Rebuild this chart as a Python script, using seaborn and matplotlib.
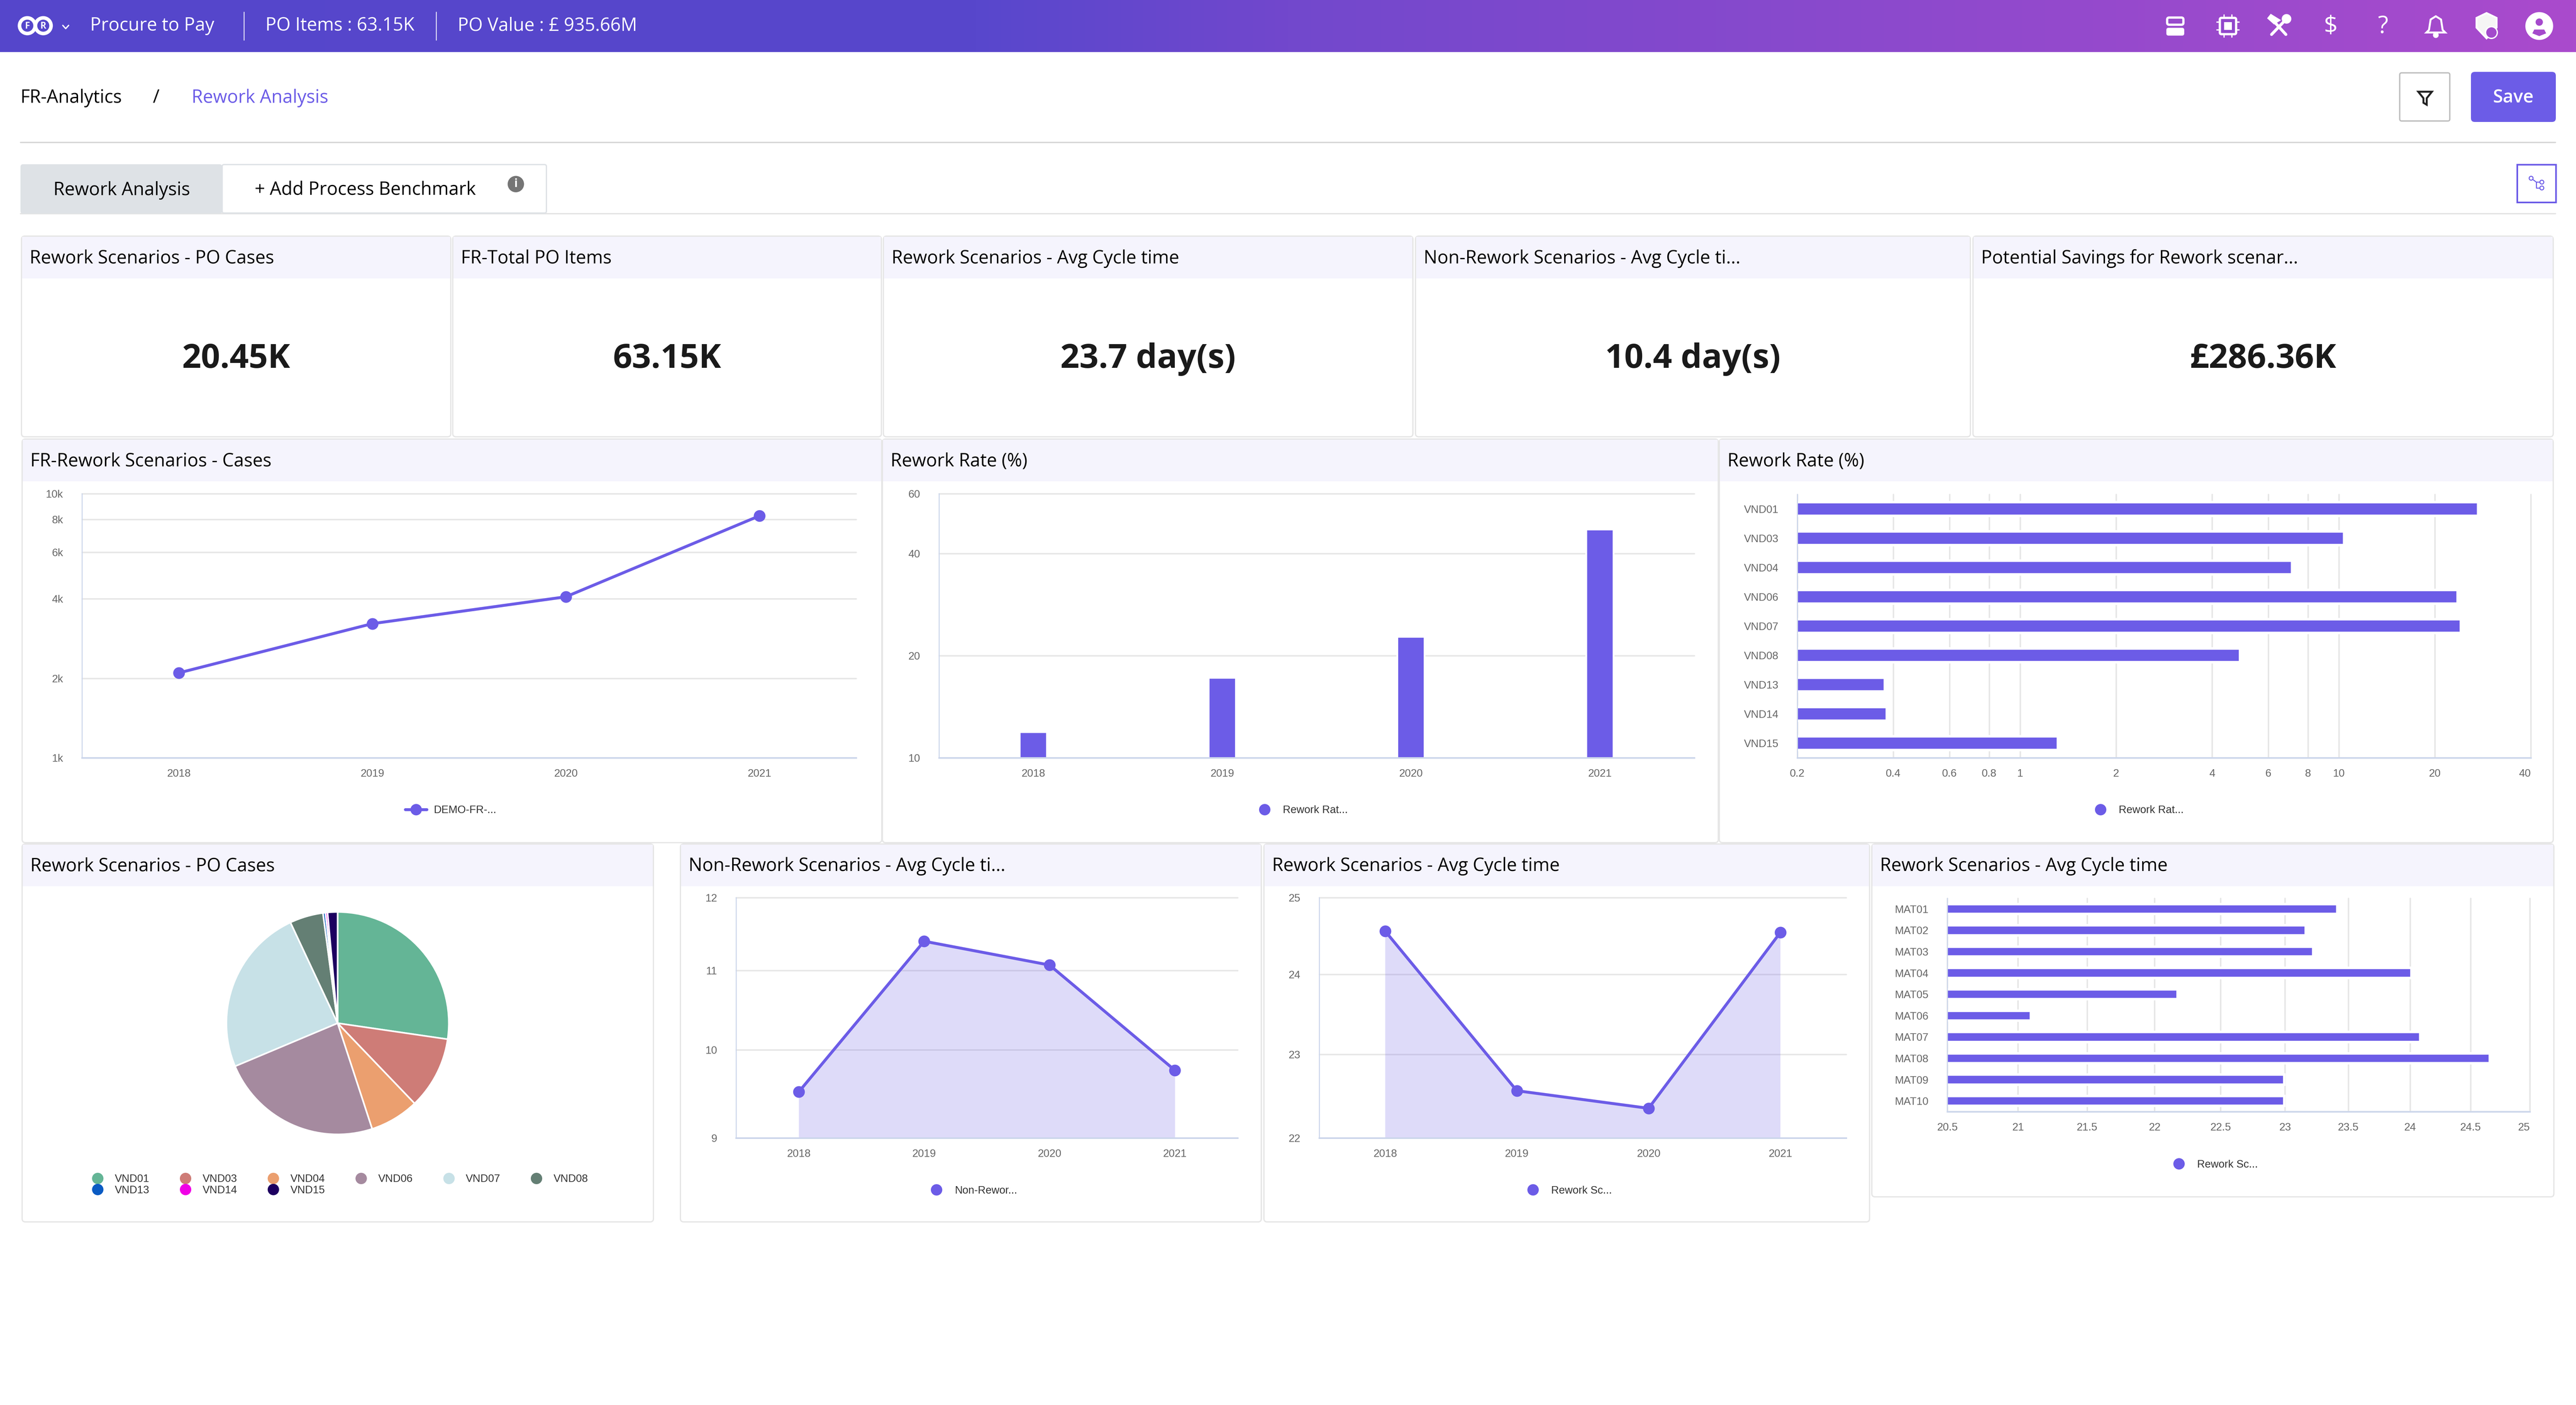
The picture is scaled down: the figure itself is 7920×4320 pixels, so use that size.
import numpy as np
import pandas as pd
import matplotlib
matplotlib.use('Agg')
import matplotlib.pyplot as plt
import matplotlib.patheffects as pe
import seaborn as sns
from matplotlib.lines import Line2D
from matplotlib.patches import Rectangle, FancyBboxPatch, Circle, Polygon
from matplotlib.ticker import NullLocator

W, H = 7920, 4320
DPI = 400
PT = 72 / DPI  # image pixels to points

PURPLE = '#6C5CE7'
GRID = '#E6E6E6'
AXIS = '#CCD6EB'
HEADER = '#F5F4FD'
BORDER = '#E6E6E6'
TICK = '#666666'

years = ['2018', '2019', '2020', '2021']
cases_by_year = [2096, 3220, 4070, 8240]
rework_rate_by_year = [11.9, 17.2, 22.7, 47.1]

vendors = ['VND01', 'VND03', 'VND04', 'VND06', 'VND07', 'VND08', 'VND13', 'VND14', 'VND15']
rework_rate_by_vendor = [27.3, 10.37, 7.11, 23.5, 24.1, 4.88, 0.375, 0.381, 1.31]
po_cases_by_vendor = [5584, 2153, 1460, 4846, 4982, 994, 74, 62, 295]
vendor_colors = ['#64B596', '#CE7C77', '#EB9F6F', '#A58A9F', '#C7E1E7', '#647F74', '#0A5BC3', '#F000E6', '#1D0060']

non_rework_cycle = [9.51, 11.39, 11.07, 9.76]
rework_cycle = [24.56, 22.56, 22.35, 24.54]

materials = ['MAT01', 'MAT02', 'MAT03', 'MAT04', 'MAT05', 'MAT06', 'MAT07', 'MAT08', 'MAT09', 'MAT10']
rework_cycle_by_material = [23.41, 23.16, 23.22, 24.01, 22.17, 21.09, 24.08, 24.66, 22.99, 22.99]

kpi_titles = ['Rework Scenarios - PO Cases', 'FR-Total PO Items', 'Rework Scenarios - Avg Cycle time',
              'Non-Rework Scenarios - Avg Cycle ti...', 'Potential Savings for Rework scenar...']
kpi_values = ['20.45K', '63.15K', '23.7 day(s)', '10.4 day(s)', '£286.36K']

sns.set_theme(style='white')
plt.rcParams['font.family'] = ['Open Sans', 'DejaVu Sans']

fig = plt.figure(figsize=(W / DPI, H / DPI), dpi=DPI, facecolor='white')
canvas = fig.add_axes([0, 0, 1, 1])
canvas.set_xlim(0, W)
canvas.set_ylim(H, 0)
canvas.axis('off')


def box(x0, y0, x1, y1, fc='white', ec='none', lw=0, round_px=0, z=1):
    if round_px:
        p = FancyBboxPatch((x0, y0), x1 - x0, y1 - y0, boxstyle=f'round,pad=0,rounding_size={round_px}',
                           fc=fc, ec=ec, lw=lw * PT, zorder=z)
    else:
        p = Rectangle((x0, y0), x1 - x0, y1 - y0, fc=fc, ec=ec, lw=lw * PT, zorder=z)
    canvas.add_patch(p)


def label(x, y, s, px=56, color='black', ha='left', weight='normal', family=None, z=5):
    canvas.text(x, y, s, fontsize=px * PT, color=color, ha=ha, va='center', fontweight=weight,
                family=family or ['Open Sans', 'DejaVu Sans'], zorder=z)


def panel(x0, y0, x1, y1, head_bottom, title):
    box(x0, y0, x1, y1, fc='white', ec=BORDER, lw=4, round_px=10)
    box(x0 + 2, y0 + 2, x1 - 2, head_bottom, fc=HEADER)
    label(x0 + 25, (y0 + head_bottom) / 2 + 4, title, px=56)


def chart_axes(l, t, r, b):
    ax = fig.add_axes([l / W, 1 - b / H, (r - l) / W, (b - t) / H])
    ax.patch.set_alpha(0)
    return ax


def style_axes(ax, grid_axis):
    sns.despine(ax=ax, top=True, right=True)
    ax.spines['left'].set_color(AXIS)
    ax.spines['left'].set_linewidth(3 * PT)
    ax.spines['bottom'].set_color(AXIS)
    ax.spines['bottom'].set_linewidth(5 * PT)
    ax.set_axisbelow(True)
    ax.grid(True, axis=grid_axis, color=GRID, lw=4.5 * PT)
    ax.grid(False, axis='x' if grid_axis == 'y' else 'y')
    for gl in ax.get_xgridlines() + ax.get_ygridlines():
        gl.set_clip_on(False)
    ax.tick_params(axis='both', which='both', length=0, labelsize=33 * PT, labelcolor=TICK)
    for t in ax.get_xticklabels() + ax.get_yticklabels():
        t.set_family(['Liberation Sans', 'DejaVu Sans'])
    ax.tick_params(axis='x', pad=34 * PT)
    ax.tick_params(axis='y', pad=58 * PT)
    ax.set_xlabel('')
    ax.set_ylabel('')


def log_ticks(axis, ticks, labels):
    axis.set_major_locator(matplotlib.ticker.FixedLocator(ticks))
    axis.set_major_formatter(matplotlib.ticker.FixedFormatter(labels))
    axis.set_minor_locator(NullLocator())


def add_legend(ax, handles, names, cx, cy, ncol=1, pad=1.2, hlen=1.0, colsp=2.0):
    leg = ax.legend(handles, names, loc='center', bbox_to_anchor=(cx, cy), bbox_transform=canvas.transData,
                    frameon=False, ncol=ncol, borderpad=0, borderaxespad=0, handlelength=hlen, handletextpad=pad,
                    columnspacing=colsp, labelspacing=0.1, prop={'family': 'Liberation Sans', 'size': 33 * PT})
    for t in leg.get_texts():
        t.set_color('#333333')


def dot(color=PURPLE):
    return Line2D([], [], ls='none', marker='o', ms=35 * PT, mfc=color, mec=color, mew=0)


def halo(ax):
    # white stroke around horizontal bars, it cuts the gridlines behind them
    for bar in ax.patches:
        bar.set_path_effects([pe.withStroke(linewidth=10 * PT, foreground='white')])


def line_chart(rect, values, ylim, ticks, tick_labels, fill=False):
    ax = chart_axes(*rect)
    df = pd.DataFrame({'year': years, 'value': values})
    if fill:
        ax.fill_between(df['year'], df['value'], ylim[0], color=PURPLE, alpha=0.22, lw=0, zorder=1)
    sns.lineplot(data=df, x='year', y='value', ax=ax, color=PURPLE, lw=9 * PT, marker='o', ms=36 * PT,
                 mew=0, sort=False, errorbar=None, zorder=3)
    ax.set_yscale('log')
    ax.set_xlim(-0.5, 3.5)
    ax.set_ylim(*ylim)
    log_ticks(ax.yaxis, ticks, tick_labels)
    style_axes(ax, 'y')
    return ax


# ---- top bar
stops_x = [0, 3000, 3960, 7920]
stops_r = [85, 88, 114, 170]
stops_g = [70, 71, 72, 75]
stops_b = [203, 204, 204, 204]
xs = np.linspace(0, W, 800)
grad = np.dstack([np.interp(xs, stops_x, stops_r), np.interp(xs, stops_x, stops_g), np.interp(xs, stops_x, stops_b)])
canvas.imshow(grad / 255, extent=(0, W, 160, 0), aspect='auto', zorder=1)
canvas.set_xlim(0, W)
canvas.set_ylim(H, 0)

for cx in (84, 133):
    canvas.add_patch(Circle((cx, 79), 24, fc='none', ec='white', lw=11 * PT, zorder=3))
label(84, 80, 'F', px=28, color='white', ha='center', weight='bold')
label(133, 80, 'R', px=28, color='white', ha='center', weight='bold')
canvas.plot([193, 202, 211], [78, 88, 78], color='white', lw=4 * PT, zorder=3)
label(277, 80, 'Procure to Pay', px=56, color='white')
label(816, 80, 'PO Items : 63.15K', px=56, color='white')
label(1407, 80, 'PO Value : £ 935.66M', px=56, color='white')
for x in (750, 1341):
    canvas.plot([x, x], [37, 123], color='#FFFFFFCC', lw=3 * PT, zorder=3)

# server icon
box(6663, 54, 6713, 76, fc='none', ec='white', lw=7, round_px=6, z=3)
box(6663, 88, 6713, 107, fc='white', ec='white', lw=5, round_px=4, z=3)
# chip icon
for off in (-12, 12):
    canvas.plot([6850 + off, 6850 + off], [46, 114], color='white', lw=4 * PT, zorder=2)
    canvas.plot([6816, 6884], [80 + off, 80 + off], color='white', lw=4 * PT, zorder=2)
box(6825, 55, 6875, 105, fc='#9147CC', ec='white', lw=7, round_px=5, z=2.5)
box(6838, 68, 6862, 92, fc='white', z=3)
# tools icon
canvas.plot([6984, 7028], [58, 106], color='white', lw=9 * PT, zorder=3)
canvas.plot([7030, 6984], [58, 106], color='white', lw=9 * PT, zorder=3)
canvas.add_patch(Polygon([(6982, 46), (7008, 62), (6992, 72), (6974, 56)], fc='white', zorder=3))
canvas.add_patch(Circle((7030, 58), 12, fc='white', zorder=3))
label(7166, 82, '$', px=74, color='white', ha='center')
label(7327, 82, '?', px=74, color='white', ha='center')
# bell
canvas.add_patch(Polygon([(7489, 50), (7505, 60), (7510, 92), (7518, 100), (7460, 100), (7468, 92), (7473, 60)],
                         fc='none', ec='white', lw=6 * PT, zorder=3))
canvas.add_patch(Circle((7489, 108), 6, fc='white', zorder=3))
# shield with badge
canvas.add_patch(Polygon([(7645, 40), (7676, 55), (7676, 85), (7645, 118), (7614, 85), (7614, 55)], fc='#F5F5F5', zorder=3))
canvas.add_patch(Circle((7660, 100), 18, fc='#A34ACC', ec='white', lw=4 * PT, zorder=4))
# user icon
canvas.add_patch(Circle((7807, 80), 40, fc='white', zorder=3))
canvas.add_patch(Circle((7807, 68), 14, fc='#A54ACC', zorder=4))
canvas.add_patch(Polygon([(7782, 104), (7790, 88), (7824, 88), (7832, 104), (7807, 114)], fc='#A54ACC', zorder=4))

# ---- breadcrumb row
label(63, 302, 'FR-Analytics', px=56)
label(480, 302, '/', px=56, ha='center')
label(589, 302, 'Rework Analysis', px=56, color=PURPLE)
canvas.plot([63, 7857], [438, 438], color='#D5D5D5', lw=4 * PT, zorder=2)
box(7378, 224, 7532, 372, fc='white', ec='#BDBDBD', lw=4, round_px=6)
canvas.add_patch(Polygon([(7435, 282), (7477, 282), (7461, 302), (7461, 322), (7451, 316), (7451, 302)], fc='none', ec='#222222', lw=6 * PT, zorder=3))
box(7597, 221, 7858, 375, fc=PURPLE, round_px=12)
label(7727, 302, 'Save', px=56, color='white', ha='center', weight='semibold')

# ---- tabs
canvas.plot([63, 7857], [657, 657], color='#E3E3E3', lw=4 * PT, zorder=2)
box(683, 506, 1680, 655, fc='white', ec='#DEE2E6', lw=4, round_px=6, z=3)
box(63, 505, 683, 657, fc='#DEE2E6', round_px=8, z=3)
label(164, 585, 'Rework Analysis', px=56)
label(783, 585, '+ Add Process Benchmark', px=56)
canvas.add_patch(Circle((1586, 566), 28, fc='#757575', zorder=4))
label(1586, 566, 'i', px=36, color='white', ha='center', weight='bold')
box(7739, 506, 7858, 622, fc='white', ec=PURPLE, lw=5)
canvas.plot([7782, 7798, 7815], [548, 560, 560], color=PURPLE, lw=3 * PT, zorder=3)
canvas.plot([7798, 7798, 7815], [560, 578, 578], color=PURPLE, lw=3 * PT, zorder=3)
for p in [(7782, 548), (7815, 560), (7815, 578)]:
    canvas.add_patch(Circle(p, 6, fc='white', ec=PURPLE, lw=3 * PT, zorder=4))

# ---- KPI cards
kpi_edges = [(66, 1386), (1392, 2710), (2716, 4344), (4352, 6058), (6066, 7850)]
for (x0, x1), title, value in zip(kpi_edges, kpi_titles, kpi_values):
    panel(x0, 726, x1, 1343, 856, title)
    label((x0 + x1) / 2, 1105, value, px=103, ha='center', weight='bold', color='#1A1A1A')

# ---- middle row
panel(68, 1350, 2711, 2591, 1480, 'FR-Rework Scenarios - Cases')
ax1 = line_chart((252, 1518, 2632, 2330), cases_by_year, (1000, 10000),
                 [1000, 2000, 4000, 6000, 8000, 10000], ['1k', '2k', '4k', '6k', '8k', '10k'])
add_legend(ax1, [Line2D([], [], color=PURPLE, lw=9 * PT, marker='o', ms=35 * PT, mew=0)], ['DEMO-FR-...'], 1386, 2492, hlen=2.0, pad=0.65)

panel(2713, 1350, 5283, 2591, 1480, 'Rework Rate (%)')
ax2 = chart_axes(2887, 1518, 5209, 2330)
sns.barplot(x=years, y=rework_rate_by_year, ax=ax2, color=PURPLE, saturation=1, width=0.145, errorbar=None)
ax2.set_yscale('log')
ax2.set_xlim(-0.5, 3.5)
ax2.set_ylim(10, 60)
log_ticks(ax2.yaxis, [10, 20, 40, 60], ['10', '20', '40', '60'])
style_axes(ax2, 'y')
add_legend(ax2, [dot()], ['Rework Rat...'], 4008, 2492)

panel(5286, 1350, 7850, 2591, 1480, 'Rework Rate (%)')
ax3 = chart_axes(5526, 1520, 7781, 2330)
sns.barplot(y=vendors, x=rework_rate_by_vendor, ax=ax3, color=PURPLE, saturation=1, width=0.44, errorbar=None, orient='h')
ax3.set_xscale('log')
ax3.set_xlim(0.2, 40)
ax3.set_ylim(8.5, -0.5)
log_ticks(ax3.xaxis, [0.2, 0.4, 0.6, 0.8, 1, 2, 4, 6, 8, 10, 20, 40],
          ['0.2', '0.4', '0.6', '0.8', '1', '2', '4', '6', '8', '10', '20', '40'])
style_axes(ax3, 'x')
halo(ax3)
ax3.get_xticklabels()[-1].set_ha('right')
add_legend(ax3, [dot()], ['Rework Rat...'], 6578, 2492)

# ---- bottom row
panel(68, 2595, 2009, 3757, 2725, 'Rework Scenarios - PO Cases')
ax4 = chart_axes(1038 - 342, 3146 - 342, 1038 + 342, 3146 + 342)
wedges, _ = ax4.pie(po_cases_by_vendor, colors=vendor_colors, startangle=90, counterclock=False, radius=1,
                    wedgeprops={'edgecolor': 'white', 'linewidth': 5 * PT})
ax4.set_xlim(-1, 1)
ax4.set_ylim(-1, 1)
order = [0, 6, 1, 7, 2, 8, 3, 4, 5]
add_legend(ax4, [dot(vendor_colors[i]) for i in order], [vendors[i] for i in order], 1046, 3643, ncol=6, pad=1.1, colsp=2.85)

panel(2092, 2595, 3878, 3757, 2725, 'Non-Rework Scenarios - Avg Cycle ti...')
ax5 = line_chart((2263, 2760, 3805, 3499), non_rework_cycle, (9, 12), [9, 10, 11, 12], ['9', '10', '11', '12'], fill=True)
add_legend(ax5, [dot()], ['Non-Rewor...'], 2995, 3661)

panel(3886, 2595, 5748, 3757, 2725, 'Rework Scenarios - Avg Cycle time')
ax6 = line_chart((4056, 2760, 5676, 3499), rework_cycle, (22, 25), [22, 23, 24, 25], ['22', '23', '24', '25'], fill=True)
add_legend(ax6, [dot()], ['Rework Sc...'], 4826, 3661)

panel(5755, 2595, 7852, 3680, 2725, 'Rework Scenarios - Avg Cycle time')
ax7 = chart_axes(5987, 2762, 7778, 3418)
sns.barplot(y=materials, x=rework_cycle_by_material, ax=ax7, color=PURPLE, saturation=1, width=0.43, errorbar=None, orient='h')
ax7.set_xscale('log')
ax7.set_xlim(20.5, 25)
ax7.set_ylim(9.5, -0.5)
log_ticks(ax7.xaxis, [20.5, 21, 21.5, 22, 22.5, 23, 23.5, 24, 24.5, 25],
          ['20.5', '21', '21.5', '22', '22.5', '23', '23.5', '24', '24.5', '25'])
style_axes(ax7, 'x')
halo(ax7)
ax7.get_xticklabels()[-1].set_ha('right')
add_legend(ax7, [dot()], ['Rework Sc...'], 6812, 3581)

fig.savefig('out.png', dpi=DPI)
